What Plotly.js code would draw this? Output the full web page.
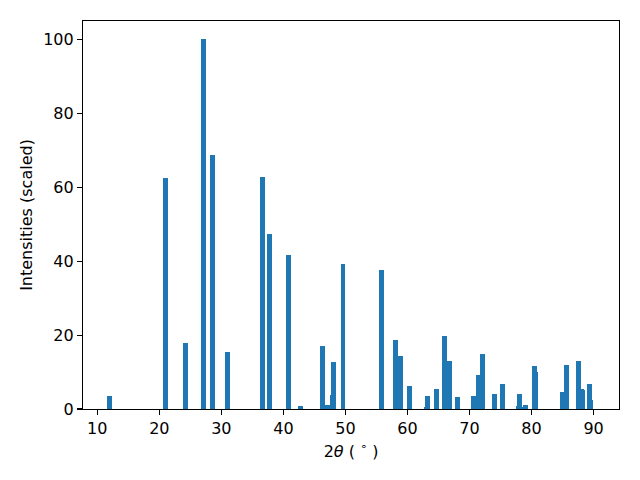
<!DOCTYPE html>
<html>
<head>
<meta charset="utf-8">
<script src="https://cdn.plot.ly/plotly-3.0.1.min.js"></script>
<style>html,body{margin:0;padding:0;background:#fff;}#chart{width:640px;height:480px;}</style>
</head>
<body>
<div id="chart"></div>
<script>
// Peak positions (2θ, degrees) and scaled intensities
const twoTheta = [11.96, 20.97, 24.19, 27.09, 28.54, 30.95, 36.58, 37.71, 40.76, 42.70,
  46.24, 47.04, 47.84, 48.01, 49.61, 55.89, 58.14, 58.95, 60.39, 63.13,
  63.29, 64.74, 66.03, 66.83, 68.12, 70.69, 71.50, 72.14, 74.07, 75.36,
  77.93, 78.09, 78.58, 78.98, 80.51, 80.67, 85.01, 85.66, 87.59, 88.07,
  88.24, 89.36, 89.52];
const intensity = [3.5, 62.6, 17.9, 100, 68.8, 15.4, 62.9, 47.4, 41.7, 0.8,
  17.1, 1.1, 3.8, 12.7, 39.3, 37.7, 18.7, 14.4, 6.2, 0.5,
  3.5, 5.4, 19.8, 13.0, 3.25, 3.5, 9.2, 14.9, 4.1, 6.8,
  0.8, 4.1, 0.5, 1.1, 11.6, 10.0, 4.6, 11.9, 13.0, 5.4,
  5.1, 6.8, 2.4];
const xTicks = [10, 20, 30, 40, 50, 60, 70, 80, 90];
const yTicks = [0, 20, 40, 60, 80, 100];

const font = {family: 'DejaVu Sans, sans-serif', size: 16, color: '#000'};

const trace = {
  type: 'bar',
  x: twoTheta,
  y: intensity,
  width: 0.8,
  marker: {color: '#1f77b4', line: {width: 0}},
  hoverinfo: 'x+y'
};

const layout = {
  width: 640, height: 480,
  margin: {l: 83, r: 21, t: 21, b: 71, pad: 0},
  paper_bgcolor: '#fff', plot_bgcolor: '#fff',
  showlegend: false,
  font: font,
  bargap: 0,
  xaxis: {
    range: [7.7, 94.1],
    tickvals: xTicks,
    ticktext: xTicks.map(String),
    ticks: 'outside', ticklen: 5, tickwidth: 1.1, tickcolor: '#000',
    showline: true, linecolor: '#000', linewidth: 1.1, mirror: true,
    showgrid: false, zeroline: false,
    tickfont: font,
    title: {text: '2<i>θ</i> ( <sup>∘</sup> )', font: font, standoff: 8}
  },
  yaxis: {
    range: [0, 105],
    tickvals: yTicks,
    ticktext: yTicks.map(String),
    ticks: 'outside', ticklen: 5, tickwidth: 1.1, tickcolor: '#000',
    showline: true, linecolor: '#000', linewidth: 1.1, mirror: true,
    showgrid: false, zeroline: false,
    tickfont: font,
    title: {text: 'Intensities (scaled)', font: font, standoff: 6}
  }
};

Plotly.newPlot('chart', [trace], layout, {staticPlot: true, displayModeBar: false});
</script>
</body>
</html>
